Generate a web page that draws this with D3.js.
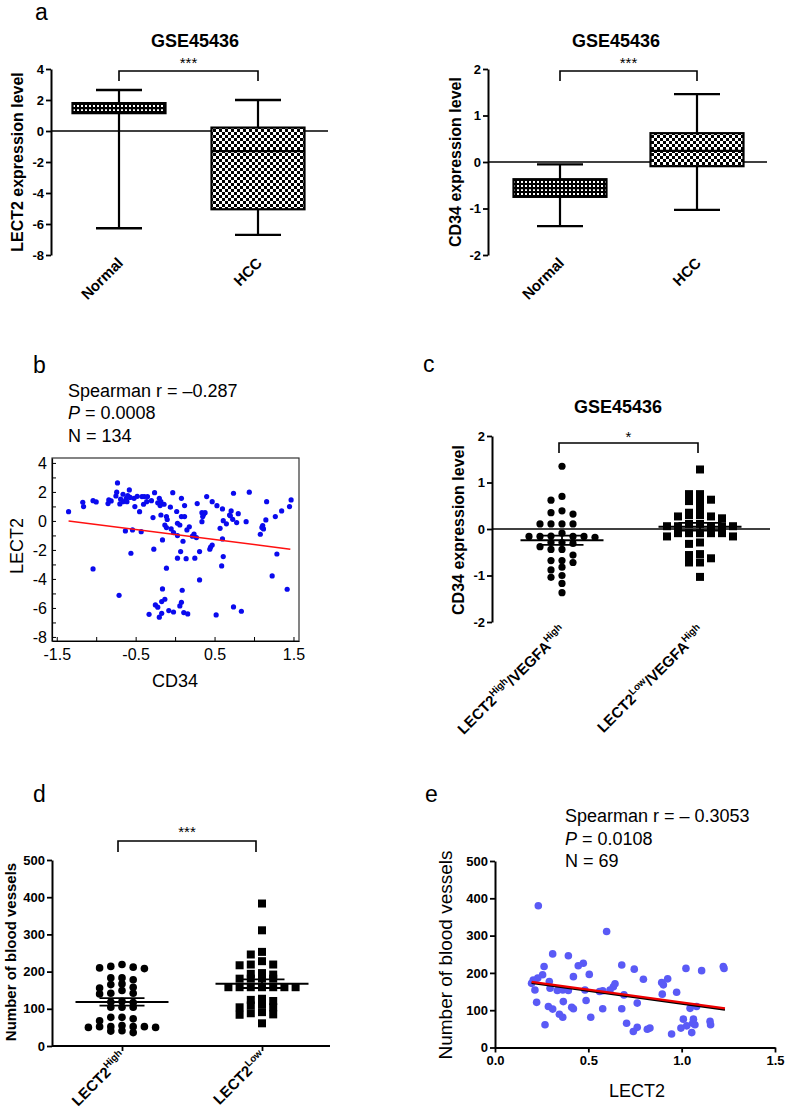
<!DOCTYPE html>
<html><head><meta charset="utf-8">
<script src="https://cdn.jsdelivr.net/npm/d3@7"></script>
<style>body{margin:0;background:#fff}</style>
</head><body>
<script>
// ================= DATA =================
// panel a : box plots (min, q1, median, q3, max)
const boxCategories = ["Normal", "HCC"];
const lect2Normal = [-6.27, 1.15, 1.48, 1.8, 2.65];
const lect2HCC    = [-6.7, -5.05, -1.3, 0.22, 2.0];
const cd34Normal  = [-1.38, -0.75, -0.56, -0.37, -0.05];
const cd34HCC     = [-1.03, -0.09, 0.24, 0.62, 1.46];
const lect2Ticks  = [-8, -6, -4, -2, 0, 2, 4];
const cd34Ticks   = [-2, -1, 0, 1, 2];

// panel b : scatter CD34 (x) vs LECT2 (y)
const bPoints = [
 [-1.35,0.64],[-1.17,1.29],[-1.16,0.99],[-1.04,1.40],[-1.0,1.31],[-1.04,-3.31],[-0.84,1.45],[-0.81,1.38],
 [-0.75,1.72],[-0.73,2.62],[-0.74,1.98],[-0.70,1.17],[-0.66,1.84],[-0.66,1.33],[-0.62,1.56],[-0.61,1.33],
 [-0.58,2.14],[-0.63,-0.69],[-0.71,-5.13],[-0.52,1.56],[-0.51,0.99],[-0.54,-0.62],[-0.56,-2.23],[-0.45,0.64],
 [-0.43,-0.74],[-0.42,1.68],[-0.39,1.68],[-0.36,1.33],[-0.35,1.68],[-0.28,0.23],[-0.26,1.95],[-0.27,-1.95],
 [-0.20,1.56],[-0.19,1.06],[-0.18,0.41],[-0.18,1.33],[-0.14,1.15],[-0.16,-1.31],[-0.13,-0.28],[-0.11,0.30],
 [-0.11,-0.46],[-0.11,-3.26],[-0.16,-4.69],[-0.13,-5.40],[-0.17,-5.56],[-0.25,-5.79],[-0.33,-6.44],[-0.20,-6.64],
 [-0.17,-6.37],[-0.08,-6.18],[-0.02,-6.28],[-0.03,1.95],[-0.05,-0.55],[0.03,-0.16],[0.03,-1.01],[0.06,-0.28],
 [0.08,1.56],[0.12,1.06],[0.08,0.30],[0.12,0.30],[0.15,-0.62],[0.07,-2.11],[0.03,-2.57],[0.09,-4.78],
 [0.08,-5.61],[0.06,-5.86],[0.11,-6.32],[0.16,-6.41],[0.24,-0.90],[0.27,-1.15],[0.31,-2.11],[0.25,-2.57],
 [0.31,-4.07],[0.34,0.57],[0.35,0.30],[0.34,-0.05],[0.38,0.57],[0.40,1.68],[0.47,1.33],[0.47,-1.66],
 [0.44,-1.95],[0.57,-0.51],[0.60,0.83],[0.61,0.02],[0.60,-1.24],[0.61,-2.46],[0.59,-3.10],[0.52,-6.48],
 [0.69,0.41],[0.71,0.69],[0.73,0.11],[0.78,-0.11],[0.74,1.91],[0.74,-5.93],[0.84,-6.23],[0.94,1.98],
 [1.08,-0.92],[1.11,-0.32],[1.12,-0.55],[1.15,0.07],[1.16,1.33],[1.27,0.30],[1.29,-2.28],[1.23,-3.79],
 [1.35,0.69],[1.45,0.99],[1.47,1.45],[1.42,-4.71],[-0.69,1.50],[-0.57,1.62],[-0.48,1.70],[-0.30,1.40],
 [-0.22,1.25],[-0.06,0.95],[0.02,0.65],[0.18,-0.40],[0.28,1.20],[0.36,0.45],[0.45,-1.80],[0.65,-0.20],
 [0.53,1.05],[0.70,0.35],[-0.40,1.15],[-0.85,1.20],[0.14,-2.60],[-0.22,-5.95],[0.10,-1.40],[-0.02,-0.80],
 [0.90,-0.05],[1.10,-0.45],[-0.60,1.75],[0.22,-1.05],[0.80,0.50],[-0.10,0.10]
];
const bFit = [[-1.35, 0.0], [1.46, -1.95]];
const bXTicks = [-1.5, -1.0, -0.5, 0, 0.5, 1.0, 1.5];
const bXLabels = [-1.5, -0.5, 0.5, 1.5];
const bYTicks = [-8, -7, -6, -5, -4, -3, -2, -1, 0, 1, 2, 3, 4];
const bYLabels = [-8, -6, -4, -2, 0, 2, 4];

// panel c : CD34 by group
const cGroups = ["LECT2^High/VEGFA^High", "LECT2^Low/VEGFA^High"];
const cHigh = [1.35,0.70,0.62,0.39,0.32,0.35,0.11,0.11,0.11,0.11,-0.09,-0.16,-0.16,-0.16,-0.16,-0.18,-0.15,
  -0.29,-0.29,-0.38,-0.31,-0.44,-0.44,-0.56,-0.68,-0.72,-0.68,-0.82,-0.88,-1.0,-1.04,-1.17,-1.37];
const cLow = [1.28,0.75,0.60,0.60,0.63,0.75,0.45,0.30,0.27,0.23,0.27,0.30,0.35,0.11,0.06,0.06,0.11,0.06,0.06,0.06,
  -0.09,-0.09,-0.16,-0.09,-0.09,-0.16,-0.09,-0.32,-0.29,-0.56,-0.72,-0.72,-0.63,-0.54,-1.03];

// panel d : blood vessels by group
const dGroups = ["LECT2^High", "LECT2^Low"];
const dHigh = [214,210,208,212,219,183,178,183,167,158,149,140,142,142,156,165,117,118,120,104,104,104,
  77,68,73,77,52,52,50,52,55,50,52,41,36,40];
const dLow = [383,311,253,246,228,217,219,219,194,192,196,181,181,181,181,158,158,158,158,158,158,158,
  124,127,121,112,104,104,109,91,85,84,88,61];
const vesselTicks = [0, 100, 200, 300, 400, 500];

// panel e : LECT2 (x) vs blood vessels (y)
const ePoints = [
 [0.232,380],[0.598,311],[0.309,251],[0.393,246],[0.263,217],[0.446,219],[0.473,226],[0.255,195],[0.229,186],
 [0.205,181],[0.196,172],[0.214,154],[0.291,177],[0.295,159],[0.334,153],[0.363,154],[0.393,153],[0.42,190],
 [0.505,196],[0.482,154],[0.577,152],[0.634,163],[0.643,171],[0.616,154],[0.691,141],[0.679,221],[0.746,210],
 [0.795,183],[0.893,174],[0.902,168],[0.925,184],[0.896,143],[0.973,148],[1.023,212],[1.107,206],[1.223,217],
 [1.227,212],[0.223,121],[0.286,110],[0.309,103],[0.345,89],[0.363,81],[0.366,123],[0.411,108],[0.488,126],
 [0.577,104],[0.513,81],[0.268,61],[0.679,104],[0.705,65],[0.741,43],[0.762,54],[0.762,119],[0.816,49],
 [0.830,52],[0.946,36],[0.996,52],[1.009,76],[1.027,58],[1.054,40],[1.059,65],[1.063,76],[1.071,61],
 [1.045,105],[1.080,110],[1.152,70],[1.155,61],[0.42,104],[0.56,150]
];
const eFit = [[0.196, 175], [1.232, 103.6]];
const eXTicks = [0, 0.5, 1.0, 1.5];

// ================= DRAWING =================
const FONT = "'Liberation Sans', Arial, Helvetica, sans-serif";
const W = 787, H = 1114;
const svg = d3.select("body").append("svg").attr("width", W).attr("height", H)
  .attr("font-family", FONT).style("background", "#fff");

const defs = svg.append("defs");
const pBig = defs.append("pattern").attr("id", "chkBig").attr("patternUnits", "userSpaceOnUse")
  .attr("width", 6).attr("height", 6);
pBig.append("rect").attr("width", 6).attr("height", 6).attr("fill", "#fff");
pBig.append("rect").attr("width", 3).attr("height", 3).attr("fill", "#000");
pBig.append("rect").attr("x", 3).attr("y", 3).attr("width", 3).attr("height", 3).attr("fill", "#000");
const pSm = defs.append("pattern").attr("id", "chkSmall").attr("patternUnits", "userSpaceOnUse")
  .attr("width", 4).attr("height", 4);
pSm.append("rect").attr("width", 4).attr("height", 4).attr("fill", "#000");
pSm.append("rect").attr("x", 1).attr("y", 1).attr("width", 2).attr("height", 2).attr("fill", "#fff");

function txt(g, x, y, s, o = {}) {
  return g.append("text").attr("x", x).attr("y", y).text(s)
    .attr("font-size", o.fs || 14).attr("font-weight", o.bold ? "bold" : "normal")
    .attr("text-anchor", o.anchor || "start").attr("fill", "#000");
}
function yLabel(g, cx, cy, s, fs, bold) {
  g.append("text").attr("transform", `translate(${cx},${cy}) rotate(-90)`)
    .attr("text-anchor", "middle").attr("dominant-baseline", "central")
    .attr("font-size", fs).attr("font-weight", bold ? "bold" : "normal").text(s);
}
function styleAxis(ax, fs, bold, sw = 2) {
  ax.attr("font-family", FONT);
  ax.select(".domain").attr("stroke-width", sw).attr("stroke", "#000");
  ax.selectAll(".tick line").attr("stroke-width", sw === 2 ? 1.8 : 1).attr("stroke", "#000");
  ax.selectAll(".tick text").attr("font-size", fs).attr("font-weight", bold ? "bold" : "normal").attr("fill", "#000");
}
function catLabel(g, x, y, label, fs) {
  const t = g.append("text").attr("transform", `translate(${x},${y}) rotate(-45)`)
    .attr("text-anchor", "end").attr("font-size", fs).attr("font-weight", "bold");
  const parts = label.split(/(\^\w+)/).filter(p => p.length);
  let shifted = false;
  parts.forEach(p => {
    if (p[0] === "^") {
      t.append("tspan").text(p.slice(1)).attr("font-size", fs * 0.65).attr("dy", -fs * 0.42);
      shifted = true;
    } else {
      const ts = t.append("tspan").text(p);
      if (shifted) { ts.attr("dy", fs * 0.42); shifted = false; }
    }
  });
}
function bracket(g, x1, x2, yTop, yBot, stars, starY) {
  g.append("path").attr("d", `M${x1},${yBot}V${yTop}H${x2}V${yBot}`)
    .attr("fill", "none").attr("stroke", "#000").attr("stroke-width", 1.6);
  txt(g, (x1 + x2) / 2, starY, stars, { fs: 15, anchor: "middle" });
}
function hline(g, x1, x2, y, w) {
  g.append("line").attr("x1", x1).attr("x2", x2).attr("y1", y).attr("y2", y)
    .attr("stroke", "#000").attr("stroke-width", w);
}
function vline(g, x, y1, y2, w) {
  g.append("line").attr("x1", x).attr("x2", x).attr("y1", y1).attr("y2", y2)
    .attr("stroke", "#000").attr("stroke-width", w);
}
function drawBox(g, cx, y, st, pat) {
  const [mn, q1, md, q3, mx] = st, bw = 93, cw = 46;
  vline(g, cx, y(q3), y(mx), 2.2); vline(g, cx, y(q1), y(mn), 2.2);
  hline(g, cx - cw / 2, cx + cw / 2, y(mx), 2.4); hline(g, cx - cw / 2, cx + cw / 2, y(mn), 2.4);
  g.append("rect").attr("x", cx - bw / 2).attr("y", y(q3)).attr("width", bw).attr("height", y(q1) - y(q3))
    .attr("fill", `url(#${pat})`).attr("stroke", "#000").attr("stroke-width", 2.2);
  hline(g, cx - bw / 2, cx + bw / 2, y(md), 2.2);
}
// row-based scatter-dot layout: points whose y lie within rowH px share a row
function swarm(vals, y, cx, step, rowH) {
  const out = new Array(vals.length);
  const order = vals.map((v, i) => i).sort((a, b) => vals[b] - vals[a]);
  let rowStart = null, idx = 0;
  for (const i of order) {
    const py = y(vals[i]);
    if (rowStart === null || py - rowStart >= rowH) { rowStart = py; idx = 0; }
    const k = idx === 0 ? 0 : (idx % 2 ? -Math.ceil(idx / 2) : Math.ceil(idx / 2));
    idx++;
    out[i] = { x: cx + k * step, y: py };
  }
  return out;
}
function meanSem(g, vals, y, cx, mw, cw) {
  const m = d3.mean(vals), s = d3.deviation(vals) / Math.sqrt(vals.length);
  vline(g, cx, y(m + s), y(m - s), 1.8);
  hline(g, cx - cw / 2, cx + cw / 2, y(m + s), 1.8);
  hline(g, cx - cw / 2, cx + cw / 2, y(m - s), 1.8);
  hline(g, cx - mw / 2, cx + mw / 2, y(m), 2);
}

// ---------- panel labels ----------
[["a", 35, 20], ["b", 33, 373], ["c", 423, 372], ["d", 33, 802], ["e", 425, 802]]
  .forEach(([s, x, y]) => txt(svg, x, y, s, { fs: 23 }));

// ---------- panel a (left) ----------
{
  const g = svg.append("g");
  const y = d3.scaleLinear().domain([-8, 4]).range([255, 69]);
  const x = d3.scalePoint().domain(boxCategories).range([119, 258]);
  const ax = g.append("g").attr("transform", "translate(51,0)")
    .call(d3.axisLeft(y).tickValues(lect2Ticks).tickFormat(d => String(d)).tickSize(5).tickSizeOuter(0).tickPadding(2));
  styleAxis(ax, 13, true);
  hline(g, 51, 328, y(0), 1.6);
  drawBox(g, x("Normal"), y, lect2Normal, "chkSmall");
  drawBox(g, x("HCC"), y, lect2HCC, "chkBig");
  txt(g, 195, 47, "GSE45436", { fs: 18, bold: true, anchor: "middle" });
  bracket(g, x("Normal"), x("HCC"), 71, 81, "***", 68);
  yLabel(g, 17, 162, "LECT2 expression level", 16, true);
  boxCategories.forEach(c => catLabel(g, x(c) + 5, 264, c, 15));
}
// ---------- panel a (right) ----------
{
  const g = svg.append("g");
  const y = d3.scaleLinear().domain([-2, 2]).range([255, 69]);
  const x = d3.scalePoint().domain(boxCategories).range([560, 697]);
  const ax = g.append("g").attr("transform", "translate(488,0)")
    .call(d3.axisLeft(y).tickValues(cd34Ticks).tickFormat(d => String(d)).tickSize(5).tickSizeOuter(0).tickPadding(2));
  styleAxis(ax, 13, true);
  hline(g, 488, 767, y(0), 1.6);
  drawBox(g, x("Normal"), y, cd34Normal, "chkSmall");
  drawBox(g, x("HCC"), y, cd34HCC, "chkBig");
  txt(g, 616, 47, "GSE45436", { fs: 18, bold: true, anchor: "middle" });
  bracket(g, x("Normal"), x("HCC"), 71, 81, "***", 68);
  yLabel(g, 455, 162, "CD34 expression level", 16, true);
  boxCategories.forEach(c => catLabel(g, x(c) + 5, 264, c, 15));
}
// ---------- panel b ----------
{
  const g = svg.append("g");
  const x = d3.scaleLinear().domain([-1.56, 1.57]).range([52, 299]);
  const y = d3.scaleLinear().domain([-8.28, 4.34]).range([641, 458]);
  g.append("rect").attr("x", 52).attr("y", 458).attr("width", 247).attr("height", 183)
    .attr("fill", "none").attr("stroke", "#333").attr("stroke-width", 1.2);
  const ax = g.append("g").attr("transform", "translate(0,641)")
    .call(d3.axisBottom(x).tickValues(bXTicks).tickFormat(d => bXLabels.includes(d) ? String(d) : "")
      .tickSize(-4).tickSizeOuter(0).tickPadding(8));
  styleAxis(ax, 16, false, 1.2);
  const ay = g.append("g").attr("transform", "translate(52,0)")
    .call(d3.axisLeft(y).tickValues(bYTicks).tickFormat(d => bYLabels.includes(d) ? String(d) : "")
      .tickSize(-4).tickSizeOuter(0).tickPadding(5));
  styleAxis(ay, 16, false, 1.2);
  g.selectAll("circle.pb").data(bPoints).join("circle").attr("class", "pb")
    .attr("cx", d => x(d[0])).attr("cy", d => y(d[1])).attr("r", 2.6).attr("fill", "#0a0aee");
  g.append("line").attr("x1", x(bFit[0][0])).attr("y1", y(bFit[0][1]))
    .attr("x2", x(bFit[1][0])).attr("y2", y(bFit[1][1])).attr("stroke", "#ff1010").attr("stroke-width", 1.5);
  txt(g, 68, 397, "Spearman r = \u20130.287", { fs: 18 });
  const t = txt(g, 68, 419, "", { fs: 18 });
  t.append("tspan").attr("font-style", "italic").text("P");
  t.append("tspan").text(" = 0.0008");
  txt(g, 68, 442, "N = 134", { fs: 18 });
  yLabel(g, 17, 546, "LECT2", 18, false);
  txt(g, 175, 687, "CD34", { fs: 18, anchor: "middle" });
}
// ---------- panel c ----------
{
  const g = svg.append("g");
  const y = d3.scaleLinear().domain([-2, 2]).range([622, 436]);
  const x = d3.scalePoint().domain(cGroups).range([562, 700]);
  const ax = g.append("g").attr("transform", "translate(492,0)")
    .call(d3.axisLeft(y).tickValues(cd34Ticks).tickFormat(d => String(d)).tickSize(5).tickSizeOuter(0).tickPadding(2));
  styleAxis(ax, 13, true);
  hline(g, 492, 770, y(0), 1.6);
  const p1 = swarm(cHigh, y, x(cGroups[0]), 11, 6.4);
  const p2 = swarm(cLow, y, x(cGroups[1]), 11, 6.4);
  g.selectAll("circle.c1").data(p1).join("circle").attr("class", "c1")
    .attr("cx", d => d.x).attr("cy", d => d.y).attr("r", 3.6).attr("fill", "#000");
  g.selectAll("rect.c2").data(p2).join("rect").attr("class", "c2")
    .attr("x", d => d.x - 4).attr("y", d => d.y - 4).attr("width", 8).attr("height", 8).attr("fill", "#000");
  meanSem(g, cHigh, y, x(cGroups[0]), 83, 43);
  meanSem(g, cLow, y, x(cGroups[1]), 83, 43);
  txt(g, 618, 413, "GSE45436", { fs: 18, bold: true, anchor: "middle" });
  bracket(g, x(cGroups[0]) - 3, x(cGroups[1]) - 2, 443, 453, "*", 442);
  yLabel(g, 458, 530, "CD34 expression level", 16, true);
  cGroups.forEach(c => catLabel(g, x(c) + 5, 632, c, 15));
}
// ---------- panel d ----------
{
  const g = svg.append("g");
  const y = d3.scaleLinear().domain([0, 500]).range([1046, 860]);
  const x = d3.scalePoint().domain(dGroups).range([122, 262]);
  const ay = g.append("g").attr("transform", "translate(52,0)")
    .call(d3.axisLeft(y).tickValues(vesselTicks).tickSize(5).tickSizeOuter(0).tickPadding(2));
  styleAxis(ay, 13, true);
  const axx = g.append("g").attr("transform", "translate(0,1046)")
    .call(d3.axisBottom(x).tickSize(5).tickSizeOuter(0).tickFormat(""));
  styleAxis(axx, 13, true);
  axx.select(".domain").attr("d", "M52,0H330");
  const p1 = swarm(dHigh, y, x(dGroups[0]), 11.2, 5);
  const p2 = swarm(dLow, y, x(dGroups[1]), 11.2, 5);
  g.selectAll("circle.d1").data(p1).join("circle").attr("class", "d1")
    .attr("cx", d => d.x).attr("cy", d => d.y).attr("r", 3.8).attr("fill", "#000");
  g.selectAll("rect.d2").data(p2).join("rect").attr("class", "d2")
    .attr("x", d => d.x - 4).attr("y", d => d.y - 4).attr("width", 8).attr("height", 8).attr("fill", "#000");
  meanSem(g, dHigh, y, x(dGroups[0]), 93, 45);
  meanSem(g, dLow, y, x(dGroups[1]), 93, 45);
  bracket(g, x(dGroups[0]) - 4, x(dGroups[1]) - 6, 841, 852, "***", 837);
  yLabel(g, 10, 952, "Number of blood vessels", 15, true);
  dGroups.forEach(c => catLabel(g, x(c) + 5, 1058, c, 15));
}
// ---------- panel e ----------
{
  const g = svg.append("g");
  const x = d3.scaleLinear().domain([0, 1.5]).range([495, 775]);
  const y = d3.scaleLinear().domain([0, 500]).range([1047.5, 861]);
  const ay = g.append("g").attr("transform", "translate(495,0)")
    .call(d3.axisLeft(y).tickValues(vesselTicks).tickSize(5).tickSizeOuter(0).tickPadding(2));
  styleAxis(ay, 13, true);
  const ax = g.append("g").attr("transform", "translate(0,1047.5)")
    .call(d3.axisBottom(x).tickValues(eXTicks).tickFormat(d3.format(".1f")).tickSize(5).tickSizeOuter(0).tickPadding(3));
  styleAxis(ax, 13, true);
  g.selectAll("circle.pe").data(ePoints).join("circle").attr("class", "pe")
    .attr("cx", d => x(d[0])).attr("cy", d => y(d[1])).attr("r", 3.8).attr("fill", "#5a5af6");
  g.append("line").attr("x1", x(eFit[0][0])).attr("y1", y(eFit[0][1]) + 0.8)
    .attr("x2", x(eFit[1][0])).attr("y2", y(eFit[1][1]) + 0.8).attr("stroke", "#000").attr("stroke-width", 2);
  g.append("line").attr("x1", x(eFit[0][0])).attr("y1", y(eFit[0][1]) - 0.4)
    .attr("x2", x(eFit[1][0])).attr("y2", y(eFit[1][1]) - 0.4).attr("stroke", "#ee0000").attr("stroke-width", 2.2);
  txt(g, 565, 822, "Spearman r = \u2013 0.3053", { fs: 18 });
  const t = txt(g, 565, 845, "", { fs: 18 });
  t.append("tspan").attr("font-style", "italic").text("P");
  t.append("tspan").text(" = 0.0108");
  txt(g, 565, 867, "N = 69", { fs: 18 });
  yLabel(g, 445, 955, "Number of blood vessels", 19, false);
  txt(g, 637, 1097, "LECT2", { fs: 18, anchor: "middle" });
}
</script>
</body></html>
